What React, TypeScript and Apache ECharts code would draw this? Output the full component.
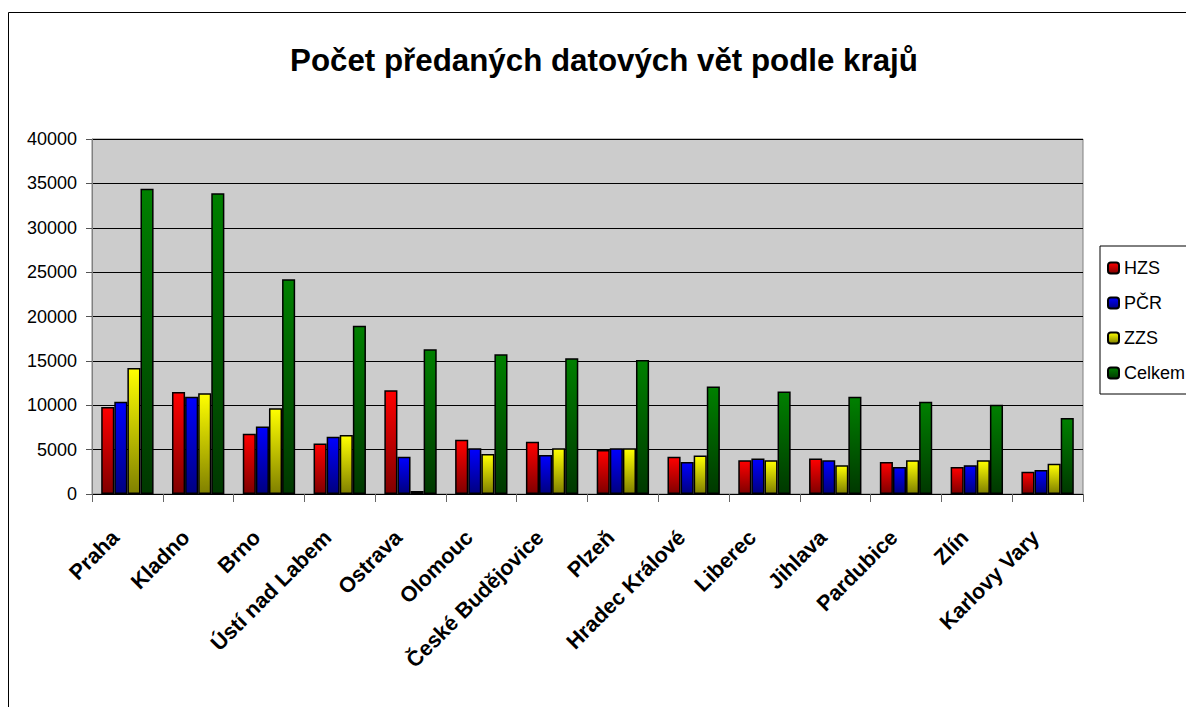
import React, { useEffect, useRef } from "react";
import * as echarts from "echarts";

const categories = [
  "Praha", "Kladno", "Brno", "Ústí nad Labem", "Ostrava", "Olomouc",
  "České Budějovice", "Plzeň", "Hradec Králové", "Liberec", "Jihlava",
  "Pardubice", "Zlín", "Karlovy Vary",
];
const hzs = [9800, 11500, 6800, 5700, 11700, 6100, 5900, 4950, 4200, 3800, 4000, 3600, 3050, 2500];
const pcr = [10400, 10950, 7600, 6450, 4200, 5150, 4400, 5150, 3600, 4000, 3800, 3050, 3250, 2700];
const zzs = [14200, 11350, 9650, 6650, 350, 4500, 5150, 5150, 4350, 3800, 3250, 3800, 3800, 3400];
const celkem = [34400, 33900, 24200, 18950, 16300, 15750, 15300, 15100, 12100, 11550, 10950, 10400, 10050, 8550];
const seriesNames = ["HZS", "PČR", "ZZS", "Celkem"];
const yTicks = [0, 5000, 10000, 15000, 20000, 25000, 30000, 35000, 40000];

const FONT = "'Liberation Sans', Arial, sans-serif";

function grad(top: string, bottom: string) {
  return new echarts.graphic.LinearGradient(0, 0, 0, 1, [
    { offset: 0, color: top },
    { offset: 1, color: bottom },
  ]);
}

export default function App() {
  const ref = useRef<HTMLDivElement>(null);
  useEffect(() => {
    if (!ref.current) return;
    const chart = echarts.init(ref.current, undefined, { renderer: "svg" });
    const colors: [string, string][] = [
      ["#FF0000", "#800000"],
      ["#0000FF", "#000080"],
      ["#FFFF00", "#808000"],
      ["#008000", "#003800"],
    ];
    const datas = [hzs, pcr, zzs, celkem];
    chart.setOption({
      animation: false,
      backgroundColor: "#ffffff",
      title: {
        text: "Počet předaných datových vět podle krajů",
        left: 599,
        textAlign: "center",
        top: 40,
        textStyle: { fontFamily: FONT, fontSize: 31.3, fontWeight: "bold", color: "#000" },
      },
      graphic: [
        {
          type: "rect",
          shape: { x: 8.5, y: 12.5, width: 1400, height: 900 },
          style: { fill: "none", stroke: "#000", lineWidth: 1 },
          silent: true,
          z: -10,
        },
      ],
      legend: {
        orient: "vertical",
        left: 1100,
        top: 246,
        backgroundColor: "#fff",
        borderColor: "#000",
        borderWidth: 1,
        padding: [13, 20, 12, 7],
        itemWidth: 11,
        itemHeight: 11,
        itemGap: 17,
        textStyle: { fontFamily: FONT, fontSize: 18, color: "#000" },
        data: seriesNames,
      },
      grid: {
        left: 92,
        top: 139,
        right: 103,
        bottom: 213,
        show: true,
        backgroundColor: "#CCCCCC",
        borderColor: "#808080",
        borderWidth: 1,
      },
      xAxis: {
        type: "category",
        data: categories,
        boundaryGap: true,
        axisLine: { show: true, lineStyle: { color: "#000", width: 1 } },
        axisTick: { show: true, length: 8, lineStyle: { color: "#666" } },
        axisLabel: {
          interval: 0,
          rotate: 45,
          margin: 28,
          padding: [0, 17, 0, 0],
          fontFamily: FONT,
          fontSize: 21.5,
          fontWeight: "bold",
          color: "#000",
        },
      },
      yAxis: {
        type: "value",
        min: yTicks[0],
        max: yTicks[yTicks.length - 1],
        interval: yTicks[1] - yTicks[0],
        axisLine: { show: true, lineStyle: { color: "#808080" } },
        axisTick: { show: true, length: 6, lineStyle: { color: "#555" } },
        axisLabel: {
          margin: 15,
          fontFamily: FONT,
          fontSize: 18,
          color: "#000",
          formatter: (v: number) => String(v),
        },
        splitLine: { show: true, lineStyle: { color: "#000", width: 1 } },
      },
      series: seriesNames.map((name, i) => ({
        name,
        type: "bar",
        data: datas[i],
        barGap: "0%",
        barCategoryGap: "26%",
        itemStyle: {
          color: grad(colors[i][0], colors[i][1]),
          borderColor: "#000",
          borderWidth: 1.5,
        },
      })),
    });
    return () => chart.dispose();
  }, []);
  return (
    <div
      ref={ref}
      style={{ position: "absolute", left: 0, top: 0, width: 1186, height: 707 }}
    />
  );
}
